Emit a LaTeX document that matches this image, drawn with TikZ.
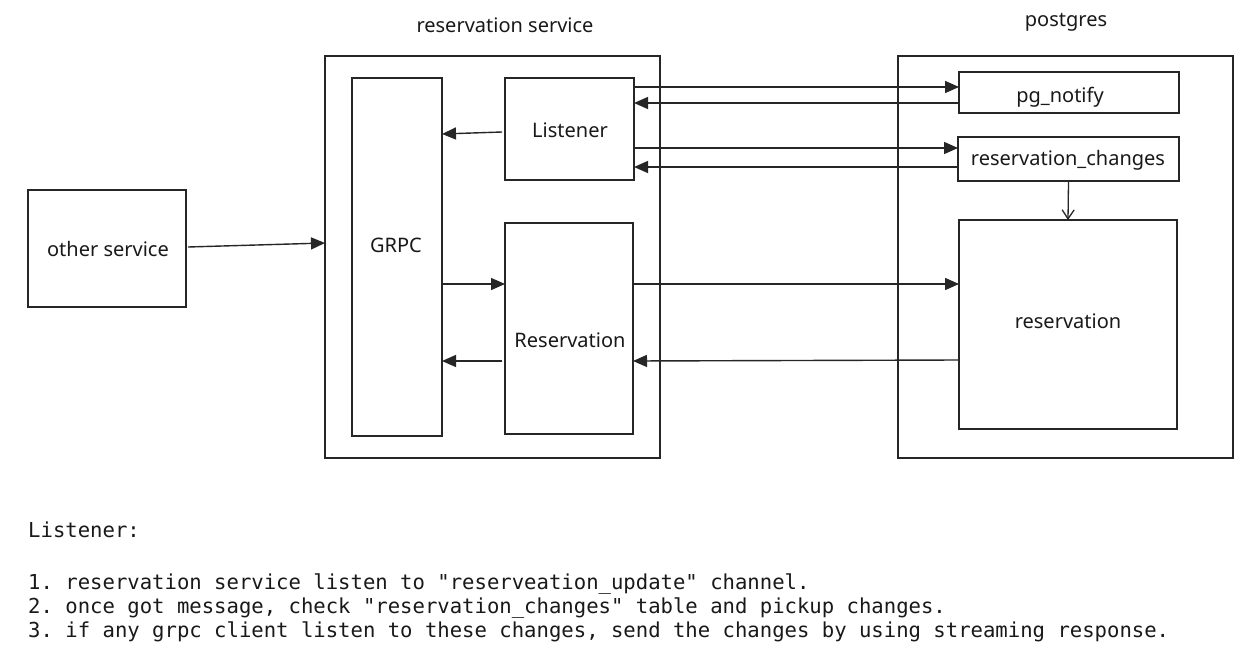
\documentclass[tikz,border=0pt]{standalone}
\usepackage{fontspec}
\setmainfont{Noto Sans}
\newfontfamily\codefont{DejaVu Sans Mono}
\usetikzlibrary{arrows.meta}
\frenchspacing
\tikzset{
  box/.style={draw=black!85, line width=1.3pt, inner sep=0pt, outer sep=0pt, fill=none},
  lbl/.style={inner sep=0pt, font=\fontsize{20}{23}\selectfont, text=black!90},
  arr/.style={draw=black!85, line width=1.4pt, -{Triangle[length=14pt,width=12pt]}},
  openarr/.style={draw=black!85, line width=1.3pt, -{Straight Barb[length=9pt,width=12pt]}},
  code/.style={inner sep=0pt, anchor=base west, font=\codefont\fontsize{20.6}{24}\selectfont, text=black!90}
}
\begin{document}
\begin{tikzpicture}[x=1pt,y=-1pt]
\useasboundingbox (0,0) rectangle (1246,658);
\fill[white] (0,0) rectangle (1246,658);

% titles
\node[lbl] (t1) at (505,25) {reservation service};
\node[lbl] (t2) at (1066,22) {postgres};

% outer containers
\node[box, minimum width=335pt, minimum height=402pt] (rsvc) at (492.5,257) {};
\node[box, minimum width=335pt, minimum height=402pt] (pgbox) at (1065.5,257) {};

% inner boxes
\node[box, minimum width=90pt, minimum height=358pt] (grpc) at (397,257) {};
\node[lbl] (grpcl) at (396,245) {GRPC};
\node[box, minimum width=129pt, minimum height=102pt] (listener) at (569.5,129) {};
\node[lbl] (listenerl) at (570,130) {Listener};
\node[box, minimum width=128pt, minimum height=211pt] (resv) at (569,328.5) {};
\node[lbl] (resvl) at (570,340) {Reservation};

\node[box, minimum width=220pt, minimum height=41pt] (pgn) at (1069,92.5) {};
\node[lbl] (pgnl) at (1060,97) {pg\_notify};
\node[box, minimum width=221pt, minimum height=44pt] (rchg) at (1068.5,159) {};
\node[lbl] (rchgl) at (1068,160) {reservation\_changes};
\node[box, minimum width=218pt, minimum height=209pt] (rtab) at (1068,324.5) {};
\node[lbl] (rtabl) at (1068,321) {reservation};

\node[box, minimum width=158pt, minimum height=117pt] (other) at (107,248.5) {};
\node[lbl] (otherl) at (108,249) {other service};

% connectors
\draw[arr] (listener.east |- 0,87) -- (pgn.west |- 0,87);
\draw[arr] (pgn.west |- 0,103) -- (listener.east |- 0,103);
\draw[arr] (listener.east |- 0,148) -- (rchg.west |- 0,148);
\draw[arr] (rchg.west |- 0,167) -- (listener.east |- 0,167);
\draw[arr] ([xshift=-3pt]listener.west |- 0,132) -- (grpc.east |- 0,134);
\draw[arr] (grpc.east |- 0,284) -- (resv.west |- 0,284);
\draw[arr] ([xshift=-3pt]resv.west |- 0,361) -- (grpc.east |- 0,361);
\draw[arr] (resv.east |- 0,284) -- (rtab.west |- 0,284);
\draw[arr] (rtab.west |- 0,360) -- (resv.east |- 0,361);
\draw[arr] ([xshift=2pt]other.east |- 0,247) -- (rsvc.west |- 0,243);
\draw[openarr] (rchg.south) -- (rtab.north);

% notes
\node[code] (n0) at (28,537) {Listener:};
\node[code] (n1) at (28,589) {1. reservation service listen to "reserveation\_update" channel.};
\node[code] (n2) at (28,613) {2. once got message, check "reservation\_changes" table and pickup changes.};
\node[code] (n3) at (28,637) {3. if any grpc client listen to these changes, send the changes by using streaming response.};
\end{tikzpicture}
\end{document}
